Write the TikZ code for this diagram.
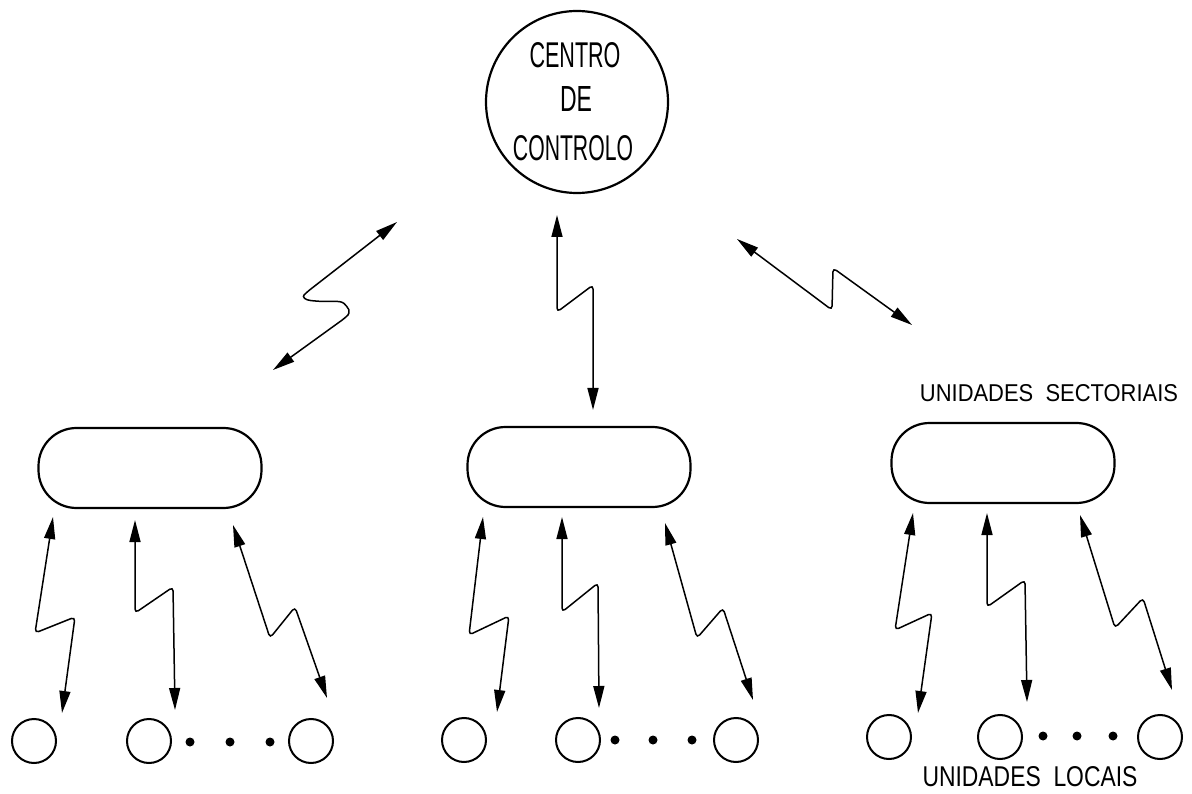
\documentclass[tikz,border=0pt]{standalone}
\usepackage{fontspec}
\setmainfont{Liberation Sans}
\usetikzlibrary{arrows.meta}
\tikzset{
  ctrl/.style={circle,draw,line width=2.2pt,minimum size=182pt,inner sep=0pt},
  sector/.style={draw,line width=2.2pt,rounded corners=38pt,minimum width=223pt,minimum height=80pt,inner sep=0pt},
  local/.style={circle,draw,line width=2pt,minimum size=44pt,inner sep=0pt},
  dotn/.style={circle,fill,minimum size=9pt,inner sep=0pt},
  bolt/.style={line width=1.5pt,rounded corners=4pt,
    {Triangle[length=22pt,width=11pt]}-{Triangle[length=22pt,width=11pt]}},
  lbl/.style={inner sep=0pt}
}
\newcommand{\fitxt}[3]{\resizebox{#1pt}{#2pt}{#3}}
\begin{document}
\begin{tikzpicture}[x=1pt,y=-1pt]
\useasboundingbox (0,0) rectangle (1192,794);
% control centre
\node[ctrl] (cc) at (577,102) {};
\node[lbl] (t1) at (575,55) {\fitxt{91}{25}{CENTRO}};
\node[lbl] (t2) at (576,99) {\fitxt{32}{25}{DE}};
\node[lbl] (t3) at (573,148) {\fitxt{120}{25}{CONTROLO}};
% sector units
\node[sector] (s1) at (150,468) {};
\node[sector] (s2) at (579,467) {};
\node[sector] (s3) at (1003,463) {};
\node[lbl] (ts) at (1049,393) {\fitxt{258}{17}{UNIDADES\ \ SECTORIAIS}};
% local units
\foreach \n/\x/\y in {a1/34/741,a2/149/741,a3/311/741,b1/464/740,b2/578/740,b3/736/740,c1/889/737,c2/1000/737,c3/1160/737}
  \node[local] (\n) at (\x,\y) {};
\foreach \n/\x/\y in {da1/190/742,da2/230/742,da3/270/742,db1/615/740,db2/653/740,db3/692/740,dc1/1043/736,dc2/1077/736,dc3/1113/736}
  \node[dotn] (\n) at (\x,\y) {};
\node[lbl] (tl) at (1030,777) {\fitxt{215}{20}{UNIDADES\ \ LOCAIS}};
% top-level links
\draw[bolt] (397,222) -- (307,292) .. controls (302,297) and (305,300) .. (315,301) .. controls (330,302) and (340,300) .. (347,306) .. controls (350,312) and (348,315) .. (345,318) -- (273,370);
\draw[bolt] (557,215) -- (557,312) -- (593,285) -- (593,410);
\draw[bolt] (737,239) -- (832,310) -- (833,268) -- (912,325);
% left group
\draw[bolt] (53,517) -- (35,633) -- (75,617) -- (62,713);
\draw[bolt] (135,520) -- (135,613) -- (173,587) -- (175,710);
\draw[bolt] (233,525) -- (270,638) -- (295,607) -- (327,698);
% middle group
\draw[bolt] (483,517) -- (469,635) -- (509,616) -- (497,712);
\draw[bolt] (562,517) -- (562,612) -- (598,583) -- (599,708);
\draw[bolt] (665,523) -- (697,638) -- (723,608) -- (753,700);
% right group
\draw[bolt] (913,513) -- (895,630) -- (932,613) -- (918,713);
\draw[bolt] (987,513) -- (987,607) -- (1025,580) -- (1027,702);
\draw[bolt] (1080,515) -- (1115,628) -- (1143,598) -- (1172,690);
\end{tikzpicture}
\end{document}
